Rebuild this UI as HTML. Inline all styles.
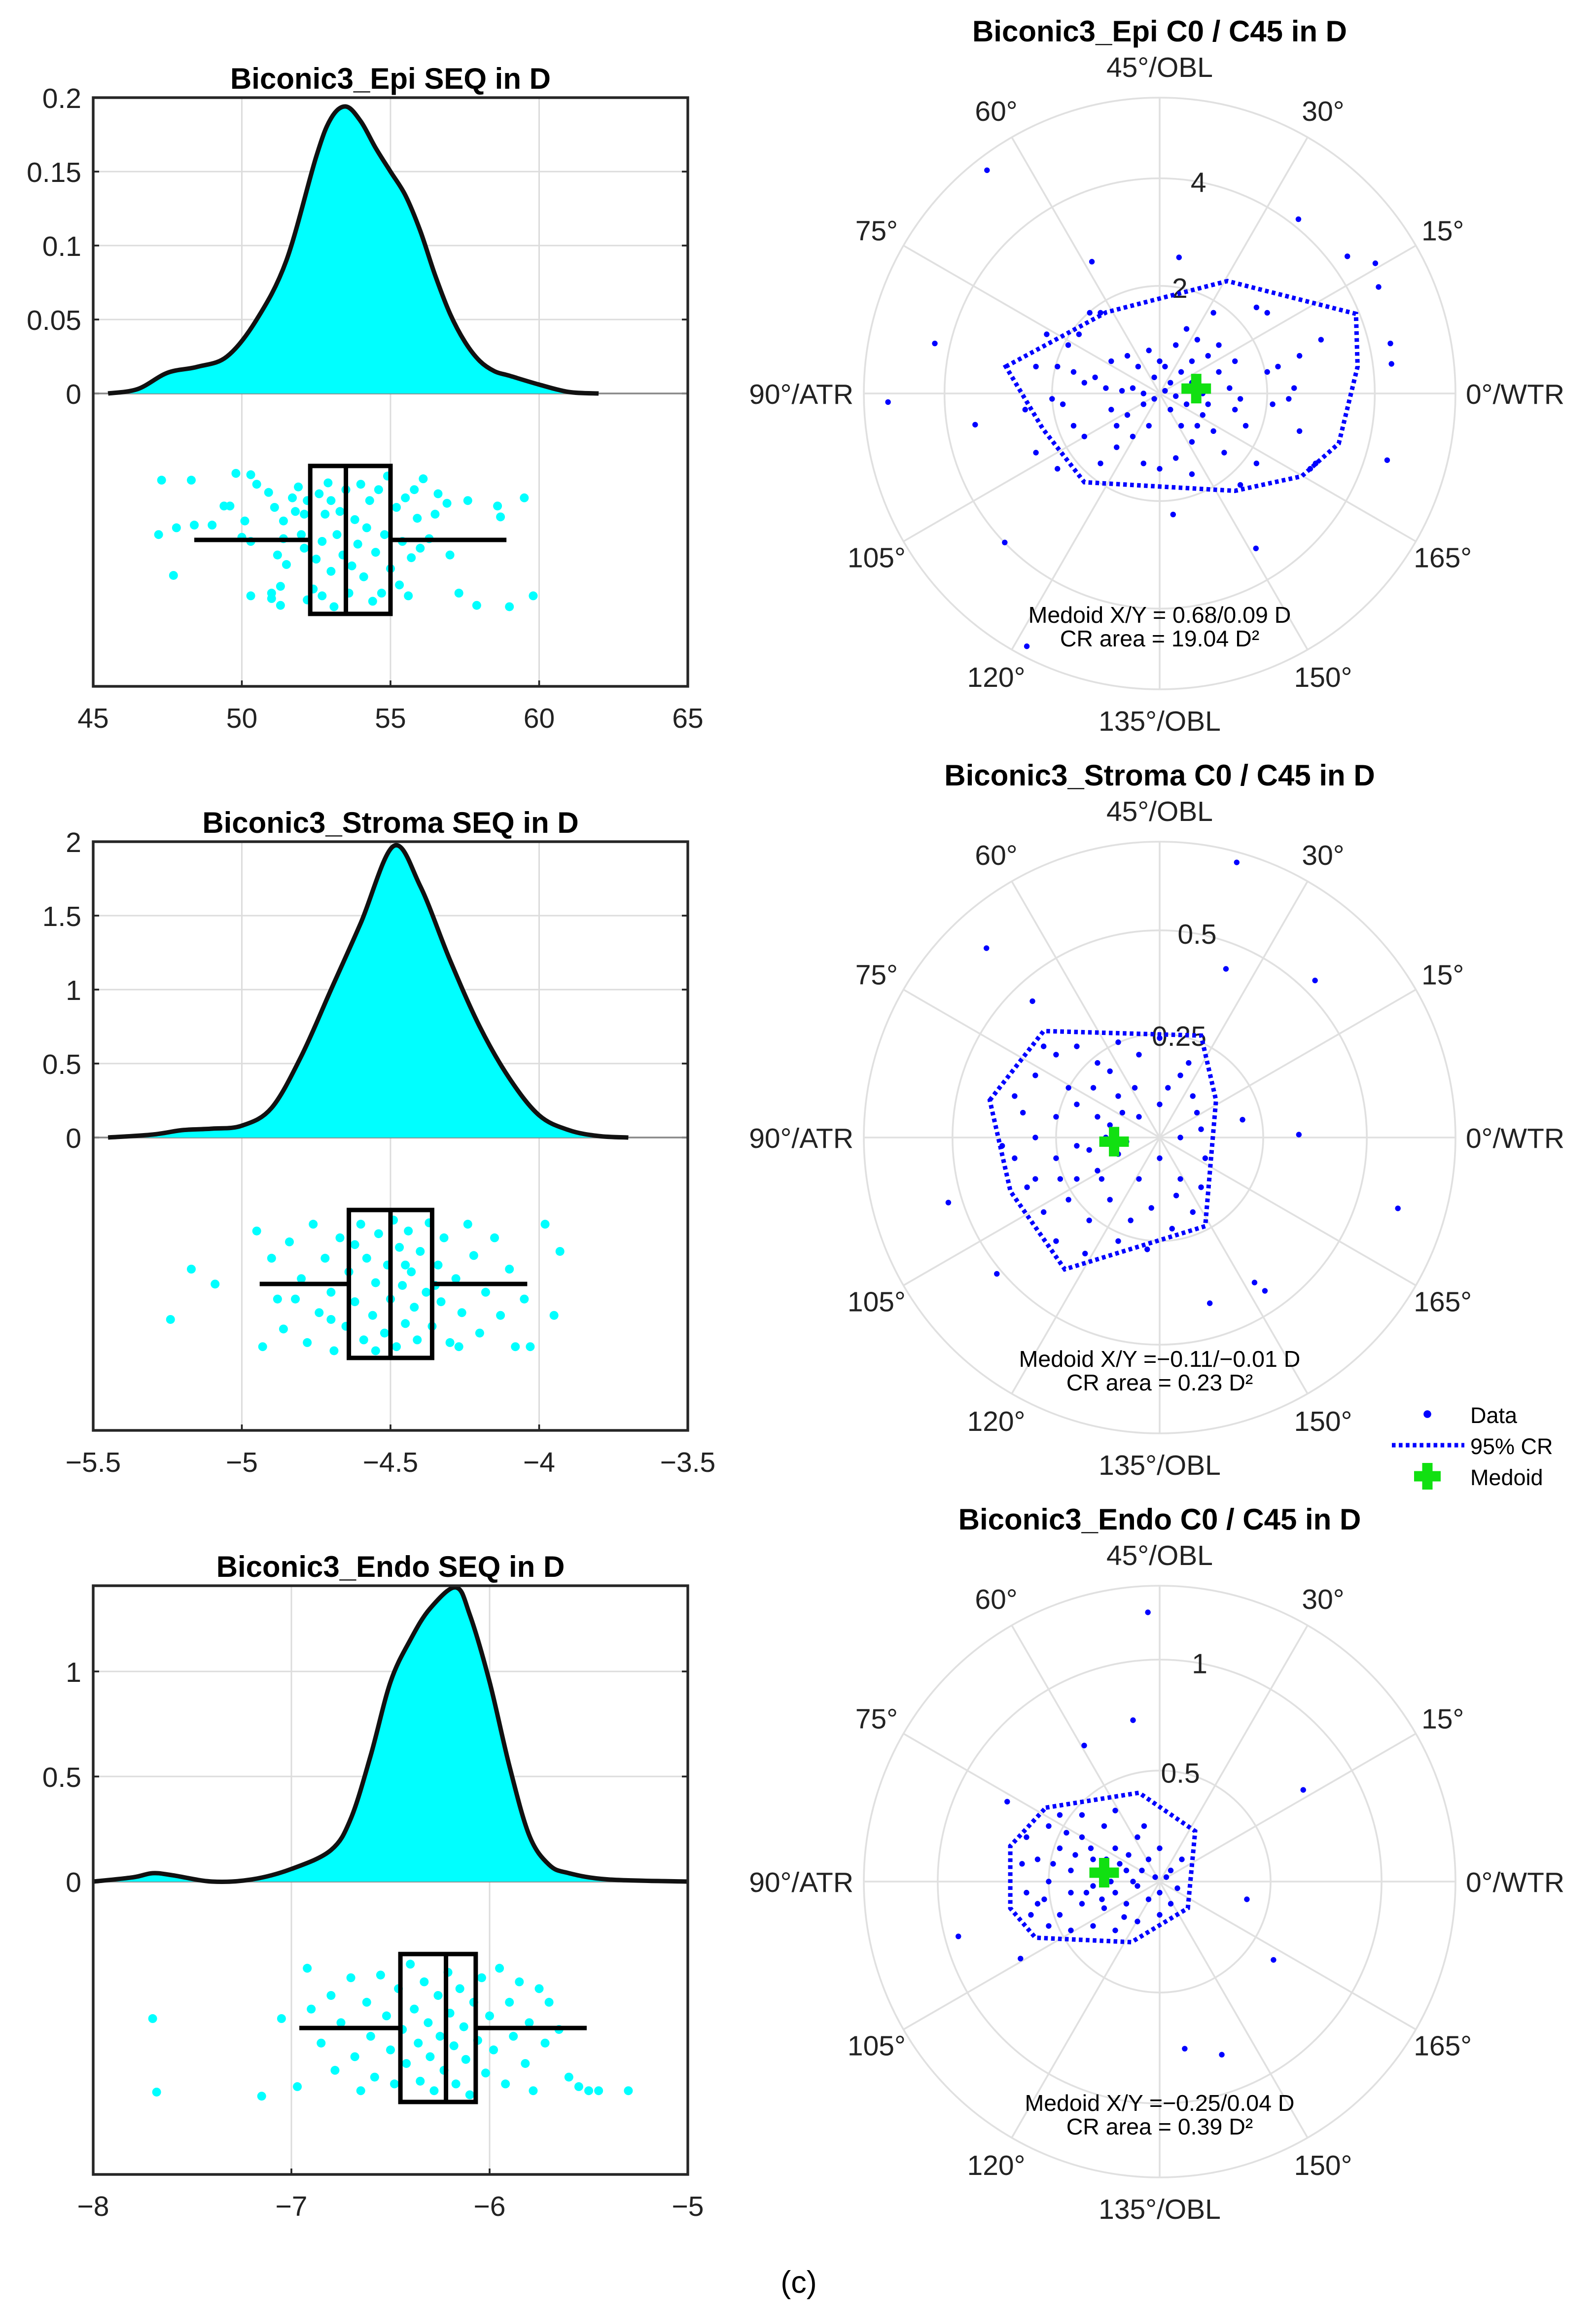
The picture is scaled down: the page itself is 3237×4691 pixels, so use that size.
<!DOCTYPE html>
<html><head><meta charset="utf-8">
<style>
html,body{margin:0;padding:0;background:#fff;}
svg{display:block;}
text{font-family:"Liberation Sans",Arial,sans-serif;}
</style></head>
<body>
<svg id="fig" xmlns="http://www.w3.org/2000/svg" width="3237" height="4691" viewBox="0 0 1079 1563.67">
<rect x="0" y="0" width="1079" height="1563.67" fill="#fff"/>
<text x="540" y="1550" font-size="21" text-anchor="middle" font-family="Liberation Serif">(c)</text>
</svg>
<script>
// ===== Left panel data (density + box + jitter) =====
const epiDensX=[45.5,46.5,47.5,48.5,49.5,50.5,51.5,52.5,53,53.5,54,54.5,55,55.5,56,56.5,57,57.5,58,58.5,59,60,61,62];
const epiDensY=[0,0.003,0.014,0.018,0.025,0.05,0.09,0.16,0.186,0.194,0.184,0.166,0.15,0.134,0.11,0.08,0.054,0.035,0.022,0.015,0.012,0.006,0.001,0];
const epiBox=[48.4,52.3,53.5,55,58.9];
const epiPts=[[47.2,0.45],[47.3,0.05],[47.7,0.75],[47.8,0.4],[48.3,0.05],[48.4,0.38],[49,0.38],[49.4,0.24],[49.6,0.24],[49.8,0],[50,0.47],[50.1,0.35],[50.3,0.01],[50.3,0.5],[50.3,0.9],[50.5,0.08],[50.9,0.14],[51,0.88],[51,0.92],[51.1,0.25],[51.2,0.6],[51.3,0.83],[51.3,0.97],[51.4,0.35],[51.4,0.48],[51.5,0.67],[51.7,0.18],[51.8,0.28],[51.9,0.1],[52,0.45],[52.1,0.55],[52.1,0.3],[52.2,0.2],[52.2,0.93],[52.4,0.85],[52.5,0.63],[52.6,0.15],[52.7,0.5],[52.7,0.9],[52.8,0.3],[52.9,0.07],[53,0.2],[53,0.72],[53.1,0.98],[53.2,0.45],[53.3,0.28],[53.4,0.6],[53.5,0.12],[53.6,0.88],[53.7,0.68],[53.8,0.34],[53.9,0.52],[54,0.08],[54.1,0.76],[54.2,0.4],[54.3,0.2],[54.4,0.94],[54.5,0.58],[54.6,0.12],[54.7,0.88],[54.8,0.45],[54.9,0.02],[55,0.7],[55.2,0.25],[55.3,0.82],[55.4,0.5],[55.5,0.18],[55.6,0.9],[55.7,0.62],[55.8,0.12],[55.9,0.33],[56,0.55],[56.1,0.04],[56.3,0.48],[56.5,0.3],[56.6,0.15],[56.9,0.22],[57,0.6],[57.3,0.88],[57.6,0.2],[57.9,0.97],[58.6,0.24],[58.7,0.32],[59,0.98],[59.5,0.18],[59.8,0.9]];
const epiXTicks=[45,50,55,60,65];
const epiYTicks=[0,0.05,0.1,0.15,0.2];
const epiYLabels=["0","0.05","0.1","0.15","0.2"];

const strDensX=[-5.45,-5.3,-5.2,-5.1,-5.0,-4.9,-4.8,-4.7,-4.6,-4.49,-4.4,-4.3,-4.2,-4.1,-4.0,-3.9,-3.8,-3.7];
const strDensY=[0,0.02,0.05,0.06,0.08,0.2,0.55,1.0,1.45,1.97,1.7,1.2,0.75,0.4,0.15,0.05,0.01,0];
const strBox=[-4.94,-4.64,-4.5,-4.36,-4.04];
const strPts=[[-5.24,0.75],[-5.17,0.38],[-5.09,0.49],[-4.95,0.1],[-4.93,0.95],[-4.9,0.3],[-4.88,0.6],[-4.86,0.82],[-4.84,0.18],[-4.8,0.45],[-4.78,0.92],[-4.76,0.05],[-4.74,0.7],[-4.72,0.3],[-4.7,0.55],[-4.69,0.98],[-4.67,0.15],[-4.65,0.8],[-4.64,0.4],[-4.62,0.62],[-4.6,0.05],[-4.59,0.9],[-4.58,0.3],[-4.56,0.72],[-4.55,0.48],[-4.54,0.12],[-4.52,0.85],[-4.51,0.35],[-4.5,0.6],[-4.49,0.02],[-4.48,0.95],[-4.47,0.22],[-4.46,0.5],[-4.45,0.78],[-4.44,0.1],[-4.43,0.4],[-4.42,0.66],[-4.41,0.9],[-4.4,0.25],[-4.38,0.55],[-4.37,0.04],[-4.36,0.8],[-4.34,0.35],[-4.33,0.62],[-4.32,0.15],[-4.3,0.92],[-4.28,0.45],[-4.26,0.7],[-4.24,0.05],[-4.22,0.28],[-4.2,0.85],[-4.18,0.55],[-4.15,0.15],[-4.13,0.72],[-4.1,0.38],[-4.08,0.95],[-4.05,0.6],[-4.03,0.95],[-3.98,0.05],[-3.95,0.72],[-3.93,0.25],[-4.55,0.98],[-4.62,0.2],[-4.7,0.75],[-4.45,0.35],[-4.35,0.5],[-4.27,0.95],[-4.82,0.6]];
const strXTicks=[-5.5,-5,-4.5,-4,-3.5];
const strXLabels=["\u22125.5","\u22125","\u22124.5","\u22124","\u22123.5"];
const strYTicks=[0,0.5,1,1.5,2];
const strYLabels=["0","0.5","1","1.5","2"];

const endDensX=[-8,-7.8,-7.7,-7.6,-7.4,-7.2,-7,-6.8,-6.7,-6.6,-6.5,-6.4,-6.3,-6.17,-6.1,-6.0,-5.9,-5.8,-5.7,-5.6,-5.4,-5.0];
const endDensY=[0,0.02,0.04,0.03,0,0.01,0.06,0.15,0.3,0.6,0.95,1.15,1.3,1.4,1.27,0.95,0.55,0.22,0.08,0.04,0.01,0];
const endBox=[-6.96,-6.45,-6.22,-6.07,-5.51];
const endPts=[[-7.7,0.42],[-7.68,0.96],[-7.15,0.99],[-7.05,0.42],[-6.97,0.92],[-6.92,0.05],[-6.9,0.35],[-6.85,0.6],[-6.8,0.25],[-6.78,0.8],[-6.75,0.45],[-6.7,0.12],[-6.68,0.7],[-6.65,0.95],[-6.62,0.3],[-6.6,0.55],[-6.58,0.85],[-6.55,0.1],[-6.52,0.4],[-6.5,0.65],[-6.48,0.9],[-6.46,0.2],[-6.44,0.5],[-6.42,0.75],[-6.4,0.02],[-6.38,0.35],[-6.36,0.6],[-6.35,0.88],[-6.33,0.15],[-6.31,0.45],[-6.3,0.7],[-6.28,0.95],[-6.26,0.25],[-6.25,0.55],[-6.23,0.8],[-6.21,0.08],[-6.2,0.38],[-6.18,0.62],[-6.17,0.9],[-6.15,0.2],[-6.13,0.48],[-6.12,0.72],[-6.1,0.98],[-6.08,0.3],[-6.06,0.58],[-6.04,0.12],[-6.02,0.82],[-6,0.4],[-5.98,0.65],[-5.95,0.05],[-5.92,0.9],[-5.9,0.3],[-5.88,0.55],[-5.85,0.15],[-5.82,0.75],[-5.8,0.45],[-5.78,0.95],[-5.75,0.2],[-5.72,0.6],[-5.7,0.3],[-5.65,0.5],[-5.6,0.85],[-5.55,0.92],[-5.5,0.95],[-5.45,0.95],[-5.3,0.95]];
const endXTicks=[-8,-7,-6,-5];
const endXLabels=["\u22128","\u22127","\u22126","\u22125"];
const endYTicks=[0,0.5,1];
const endYLabels=["0","0.5","1"];

// ===== Polar panel data (C0 = x, C45 = y, in D) =====
const epiPolPts=[[-3.21,4.15],[-5.05,-0.16],[-4.18,0.93],[-3.43,-0.58],[-2.88,-2.77],[-2.47,-4.7],[-1.26,2.45],[0.36,2.53],[2.58,3.24],[3.49,2.55],[4.01,2.42],[4.07,1.98],[4.29,0.93],[4.31,0.55],[4.23,-1.24],[1.79,-2.88],[0.25,-2.25],
[-2.1,1.1],[-1.7,0.9],[-1.5,1.1],[-1.3,1.5],[-1.1,1.5],[-2.3,0.5],[-2.0,-0.1],[-1.8,-0.2],[-1.6,0.4],[-1.4,0.2],[-1.2,0.3],[-1.0,0.1],[-0.9,-0.3],[-0.7,0.05],[-0.5,0.1],[-0.3,-0.2],[-0.1,0.3],[0.1,0.5],[0.3,0.9],[0.5,1.2],[0.7,1.0],[0.9,0.7],[1.1,0.4],[1.3,0.1],[1.5,-0.1],[0.2,-0.3],[0.4,-0.6],[0.6,-0.9],[0.8,-0.4],[1.0,-0.7],[1.2,-1.1],[1.4,-0.3],[1.6,-0.6],[1.8,-1.3],[2.1,-0.2],[2.4,-0.1],[2.6,-0.7],[2.9,-1.3],[2.2,0.5],[2.6,0.7],[3.0,1.0],[2.0,1.5],[1.8,1.6],[-0.2,-0.6],[-0.5,-0.8],[-0.8,-1.0],[-1.1,-1.3],[-1.4,-0.8],[-1.6,-0.6],[-2.3,-1.1],[-1.9,-1.4],[-0.3,-1.3],[0.0,-1.4],[0.3,-1.2],[0.6,-1.5],[-0.6,0.7],[-0.4,0.5],[-0.2,0.8],[0.0,0.6],[0.2,0.2],[0.4,0.4],[0.6,0.2],[0.8,0.0],[0.9,-0.2],[0.5,-0.2],[0.3,-0.05],[0.1,0.05],[-0.1,-0.1],[-0.3,0.0],[-0.6,-0.4],[-0.8,-0.6],[1.0,1.5],[1.4,0.6],[2.0,0.4],[2.5,0.1],[2.8,-1.4],[1.5,-1.7],[-2.5,-0.3],[-1.9,0.5],[0.6,0.6],[0.7,-0.6],[1.1,0.9],[-0.9,0.6]];
const epiPolCR=[[-2.86,0.5],[-0.99,1.51],[1.26,2.09],[3.65,1.48],[3.68,0.5],[3.33,-0.93],[2.64,-1.54],[1.4,-1.81],[-1.4,-1.65],[-2.17,-0.66]];
const epiMedoid=[0.68,0.09];
const epiRings=[2,4];
const epiRingLabels=["2","4"];
const epiRMax=5.5;

const strPolPts=[[0.186,0.664],[-0.418,0.457],[0.16,0.407],[0.375,0.379],[-0.307,0.329],[0.575,-0.171],[0.336,0.007],[-0.51,-0.157],[-0.393,-0.329],[0.121,-0.4],[0.229,-0.35],[0.254,-0.37],[0.2,0.043],
[-0.35,0.1],[-0.3,0.15],[-0.25,0.2],[-0.2,0.22],[-0.15,0.18],[-0.1,0.23],[-0.05,0.2],[0.0,0.24],[0.05,0.15],[0.08,0.1],[-0.3,0.0],[-0.25,0.05],[-0.2,0.08],[-0.15,0.05],[-0.1,0.1],[-0.05,0.05],[0.0,0.08],[0.05,0.0],[0.1,0.02],[-0.35,-0.05],[-0.3,-0.1],[-0.25,-0.05],[-0.2,-0.02],[-0.15,-0.08],[-0.1,-0.04],[-0.05,-0.1],[0.0,-0.05],[0.05,-0.1],[0.1,-0.12],[-0.28,-0.18],[-0.22,-0.15],[-0.17,-0.2],[-0.12,-0.15],[-0.07,-0.2],[-0.02,-0.17],[0.03,-0.22],[0.08,-0.18],[-0.25,-0.25],[-0.18,-0.28],[-0.1,-0.25],[-0.03,-0.27],[-0.13,0.0],[-0.08,-0.01],[-0.12,0.03],[-0.17,-0.03],[-0.06,0.12],[-0.22,0.12],[-0.33,0.06],[-0.38,-0.02],[0.02,0.12],[0.07,0.18],[-0.12,0.16],[-0.28,0.22],[-0.2,-0.1],[-0.14,-0.1],[0.11,-0.05],[-0.32,-0.12],[0.04,-0.14],[-0.09,0.06],[-0.16,0.12],[-0.24,-0.1],[0.09,0.06]];
const strPolCR=[[-0.41,0.09],[-0.28,0.257],[0.1,0.246],[0.136,0.09],[0.11,-0.214],[-0.229,-0.318],[-0.36,-0.13]];
const strMedoid=[-0.11,-0.01];
const strRings=[0.25,0.5];
const strRingLabels=["0.25","0.5"];
const strRMax=0.714;

const endPolPts=[[-0.053,1.213],[-0.12,0.727],[-0.34,0.613],[-0.687,0.36],[0.647,0.413],[-0.907,-0.247],[-0.627,-0.347],[0.513,-0.353],[0.113,-0.753],[0.28,-0.78],[0.393,-0.08],
[-0.6,0.2],[-0.55,0.1],[-0.5,0.25],[-0.45,0.15],[-0.4,0.05],[-0.35,0.2],[-0.3,0.1],[-0.25,0.25],[-0.2,0.15],[-0.15,0.05],[-0.1,0.2],[-0.05,0.1],[0.0,0.15],[0.05,0.05],[0.1,0.1],[-0.6,-0.05],[-0.55,-0.1],[-0.5,0.0],[-0.45,-0.15],[-0.4,-0.05],[-0.35,-0.1],[-0.3,-0.02],[-0.25,-0.12],[-0.2,-0.05],[-0.15,-0.1],[-0.1,-0.02],[-0.05,-0.08],[0.0,-0.05],[0.05,-0.1],[-0.5,-0.2],[-0.4,-0.22],[-0.3,-0.2],[-0.2,-0.22],[-0.1,-0.18],[0.0,-0.15],[-0.35,0.3],[-0.2,0.32],[-0.45,0.3],[-0.62,0.08],[-0.28,0.05],[-0.22,0.0],[-0.18,0.08],[-0.12,0.0],[-0.33,-0.05],[-0.38,0.12],[-0.26,-0.08],[-0.14,0.12],[0.03,0.02],[-0.08,0.05],[-0.48,0.08],[-0.58,-0.15],[-0.42,0.22],[-0.16,-0.16],[-0.07,0.25],[0.08,-0.03],[-0.31,0.15],[-0.24,0.1],[-0.52,-0.08],[-0.02,0.02]];
const endPolCR=[[-0.513,0.333],[-0.093,0.4],[0.16,0.227],[0.127,-0.12],[-0.127,-0.273],[-0.56,-0.253],[-0.673,-0.12],[-0.673,0.16]];
const endMedoid=[-0.25,0.04];
const endRings=[0.5,1];
const endRingLabels=["0.5","1"];
const endRMax=1.333;

const angleLabels=["0\u00b0/WTR","15\u00b0","30\u00b0","45\u00b0/OBL","60\u00b0","75\u00b0","90\u00b0/ATR","105\u00b0","120\u00b0","135\u00b0/OBL","150\u00b0","165\u00b0"];

// ===== Drawing =====
const svg=document.getElementById('fig');
const NS='http://www.w3.org/2000/svg';
function mk(tag,attrs,parent){const e=document.createElementNS(NS,tag);for(const k in attrs)e.setAttribute(k,attrs[k]);(parent||svg).appendChild(e);return e;}
function txt(s,x,y,size,anchor,parent,weight){const t=mk('text',{x:x,y:y,'font-size':size,'text-anchor':anchor||'middle','fill':'#222'},parent);if(weight){t.setAttribute('font-weight',weight);t.setAttribute('fill','#000');}t.textContent=s;return t;}
function smooth(p){let d='M'+p[0][0]+','+p[0][1];for(let i=0;i<p.length-1;i++){const p0=p[i-1]||p[i],p1=p[i],p2=p[i+1],p3=p[i+2]||p2;const c1=[p1[0]+(p2[0]-p0[0])/6,p1[1]+(p2[1]-p0[1])/6],c2=[p2[0]-(p3[0]-p1[0])/6,p2[1]-(p3[1]-p1[1])/6];d+=' C'+c1[0]+','+c1[1]+' '+c2[0]+','+c2[1]+' '+p2[0]+','+p2[1];}return d;}

function leftPanel(o){
  const g=mk('g',{});
  
  
  const L=63,R=465,T=o.top,B=o.top+398,Z=o.zeroY;
  const sx=v=>L+(v-o.xmin)/(o.xmax-o.xmin)*(R-L);
  const sy=v=>Z-(v/o.ymax)*(Z-T);
  o.xt.forEach((v,i)=>{const x=sx(v);
    const gl=mk('line',{x1:x,y1:T,x2:x,y2:B,stroke:'#dcdcdc','stroke-width':1},g);
    
    const t=txt(o.xl[i],x,B+28,19,'middle',g);
    
    mk('line',{x1:x,y1:B,x2:x,y2:B-4,stroke:'#222','stroke-width':1.2},g);
  });
  o.yt.forEach((v,i)=>{const y=sy(v);
    const gl=mk('line',{x1:L,y1:y,x2:R,y2:y,stroke:'#dcdcdc','stroke-width':1},g);
    
    const t=txt(o.yl[i],L-8,y+7,19,'end',g);
    
    mk('line',{x1:L,y1:y,x2:L+4,y2:y,stroke:'#222','stroke-width':1.2},g);
    mk('line',{x1:R,y1:y,x2:R-4,y2:y,stroke:'#222','stroke-width':1.2},g);
  });
  const zl=mk('line',{x1:L,y1:Z,x2:R,y2:Z,stroke:'#888','stroke-width':1.2},g);
  
  const pts=o.dx.map((v,i)=>[sx(v),sy(o.dy[i])]);
  let d=smooth(pts);
  const area=mk('path',{d:d+' L'+pts[pts.length-1][0]+','+Z+' L'+pts[0][0]+','+Z+' Z',fill:'#00ffff',stroke:'none'},g);
  
  const ln=mk('path',{d:d,fill:'none',stroke:'#111','stroke-width':3,'stroke-linejoin':'round'},g);
  
  const bt=o.boxTop,bb=bt+100,bm=bt+50;
  o.pts.forEach(p=>{const c=mk('circle',{cx:sx(p[0]),cy:bt+5+p[1]*92,r:3,fill:'#00ffff'},g);
    });
  const b=o.box;
  const w1=mk('line',{x1:sx(b[0]),y1:bm,x2:sx(b[1]),y2:bm,stroke:'#000','stroke-width':3},g);
  
  const w2=mk('line',{x1:sx(b[3]),y1:bm,x2:sx(b[4]),y2:bm,stroke:'#000','stroke-width':3},g);
  
  const bx=mk('rect',{x:sx(b[1]),y:bt,width:sx(b[3])-sx(b[1]),height:100,fill:'none',stroke:'#000','stroke-width':3},g);
  
  const md=mk('line',{x1:sx(b[2]),y1:bt,x2:sx(b[2]),y2:bb,stroke:'#000','stroke-width':3},g);
  
  const fr=mk('rect',{x:L,y:T,width:R-L,height:B-T,fill:'none',stroke:'#262626','stroke-width':1.8},g);
  
  const tt=txt(o.title,264,T-6,20,'middle',g,'bold');
  
}

leftPanel({name:'epi-seq-plot',title:'Biconic3_Epi SEQ in D',top:66,zeroY:266,xmin:45,xmax:65,ymax:0.2,xt:epiXTicks,xl:epiXTicks.map(String),yt:epiYTicks,yl:epiYLabels,dx:epiDensX,dy:epiDensY,box:epiBox,pts:epiPts,boxTop:315});
leftPanel({name:'stroma-seq-plot',title:'Biconic3_Stroma SEQ in D',top:569,zeroY:769,xmin:-5.5,xmax:-3.5,ymax:2,xt:strXTicks,xl:strXLabels,yt:strYTicks,yl:strYLabels,dx:strDensX,dy:strDensY,box:strBox,pts:strPts,boxTop:818});
leftPanel({name:'endo-seq-plot',title:'Biconic3_Endo SEQ in D',top:1072,zeroY:1272,xmin:-8,xmax:-5,ymax:1.408,xt:endXTicks,xl:endXLabels,yt:endYTicks,yl:endYLabels,dx:endDensX,dy:endDensY,box:endBox,pts:endPts,boxTop:1321});

function plus(g,x,y,s,name){
  const p=mk('path',{d:`M${x-s},${y} H${x+s} M${x},${y-s} V${y+s}`,stroke:'#11e011','stroke-width':7},g);
  
}

function polarPanel(o){
  const g=mk('g',{});
  
  
  const cx=784,cy=o.cy,R=200,k=R/o.rmax;
  const px=v=>cx+v*k, py=v=>cy-v*k;
  const oc=mk('circle',{cx:cx,cy:cy,r:R,fill:'none',stroke:'#e0e0e0','stroke-width':1.2},g);
  
  o.rings.forEach((r,i)=>{
    const c=mk('circle',{cx:cx,cy:cy,r:r*k,fill:'none',stroke:'#e0e0e0','stroke-width':1.2},g);
    
  });
  for(let i=0;i<12;i++){const a=i*30*Math.PI/180;
    const s=mk('line',{x1:cx,y1:cy,x2:cx+R*Math.cos(a),y2:cy-R*Math.sin(a),stroke:'#e0e0e0','stroke-width':1.2},g);
    
    const rr=221,lx=cx+rr*Math.cos(a),ly=cy-rr*Math.sin(a);
    let anc='middle',tx=lx;
    if(i==0){tx=cx+R+7;anc='start';}
    if(i==6){tx=cx-R-7;anc='end';}
    const t=txt(angleLabels[i],tx,ly+7,19,anc,g);
    
  }
  o.rings.forEach((r,i)=>{const a=80*Math.PI/180;
    const t=txt(o.ringLabels[i],cx+r*k*Math.cos(a)+1,cy-r*k*Math.sin(a)+7,19,'middle',g);
    });
  o.pts.forEach(p=>{const c=mk('circle',{cx:px(p[0]),cy:py(p[1]),r:1.9,fill:'#0000ff'},g);
    });
  const poly=mk('polygon',{points:o.cr.map(p=>px(p[0])+','+py(p[1])).join(' '),fill:'none',stroke:'#0000ff','stroke-width':3,'stroke-dasharray':'2.5 2.2'},g);
  
  plus(g,px(o.med[0]),py(o.med[1]),10,'medoid-marker');
  const t1=txt(o.medText,cx,cy+155,15.5,'middle',g);t1.setAttribute('fill','#000');
  
  const t2=txt(o.crText,cx,cy+171,15.5,'middle',g);t2.setAttribute('fill','#000');
  
  const tt=txt(o.title,784,cy-238,20,'middle',g,'bold');
  
}
polarPanel({name:'epi-polar-plot',title:'Biconic3_Epi C0 / C45 in D',cy:266,rmax:epiRMax,rings:epiRings,ringLabels:epiRingLabels,pts:epiPolPts,cr:epiPolCR,med:epiMedoid,medText:'Medoid X/Y = 0.68/0.09 D',crText:'CR area = 19.04 D\u00b2'});
polarPanel({name:'stroma-polar-plot',title:'Biconic3_Stroma C0 / C45 in D',cy:769,rmax:strRMax,rings:strRings,ringLabels:strRingLabels,pts:strPolPts,cr:strPolCR,med:strMedoid,medText:'Medoid X/Y =\u22120.11/\u22120.01 D',crText:'CR area = 0.23 D\u00b2'});
polarPanel({name:'endo-polar-plot',title:'Biconic3_Endo C0 / C45 in D',cy:1272,rmax:endRMax,rings:endRings,ringLabels:endRingLabels,pts:endPolPts,cr:endPolCR,med:endMedoid,medText:'Medoid X/Y =\u22120.25/0.04 D',crText:'CR area = 0.39 D\u00b2'});

// legend
const lg=mk('g',{});


const ld=mk('circle',{cx:965,cy:956,r:2.6,fill:'#0000ff'},lg);

const l1=txt('Data',994,962,15,'start',lg);l1.setAttribute('fill','#000');

const ll=mk('line',{x1:941,y1:977,x2:990,y2:977,stroke:'#0000ff','stroke-width':3,'stroke-dasharray':'2.5 2.2'},lg);

const l2=txt('95% CR',994,983,15,'start',lg);l2.setAttribute('fill','#000');

plus(lg,965,998,9,'legend-medoid-marker');
const l3=txt('Medoid',994,1004,15,'start',lg);l3.setAttribute('fill','#000');

</script>
</body></html>
